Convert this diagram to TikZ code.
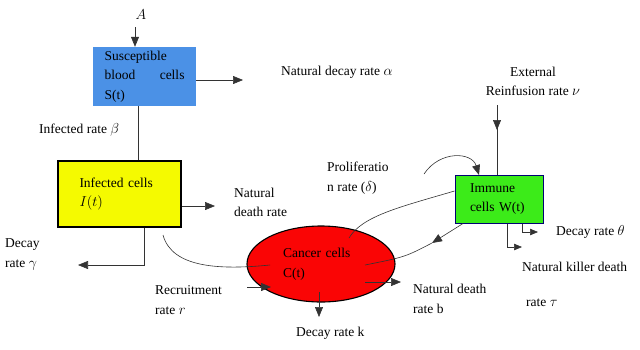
\documentclass[tikz,border=0pt]{standalone}
\usepackage{fontspec}
\setmainfont{Liberation Serif}
\usepackage{xcolor}
\usetikzlibrary{arrows.meta, shapes.geometric}

\definecolor{susceptible_blue}{RGB}{75,145,230}
\definecolor{infected_yellow}{RGB}{245,250,0}
\definecolor{immune_green}{RGB}{60,235,25}
\definecolor{cancer_red}{RGB}{250,5,5}

\begin{document}
\begin{tikzpicture}[
    x=1pt, y=-1pt,
    font=\fontsize{13.5}{19.5}\selectfont,
    cell/.style={rectangle, align=left, inner sep=0pt},
    cell_round/.style={ellipse, align=left, inner sep=0pt, draw=black, line width=1.1pt},
    label_text/.style={align=left, anchor=west, inner sep=0pt},
    link/.style={draw=black!80, line width=0.6pt},
    flow/.style={link, -{Triangle[length=10pt, width=8pt]}},
    flow_small/.style={link, -{Triangle[length=8pt, width=6.5pt]}},
]
    \useasboundingbox (0, 0) rectangle (640, 349);

    \node(susceptible)[cell, fill=susceptible_blue, minimum width=103, minimum height=59, text width=80] at (144.5, 76.5) {Susceptible\\ blood\hfill cells\\ S(t)};
    \node(infected)[cell, fill=infected_yellow, draw=black, line width=1.2pt, minimum width=123, minimum height=66, text width=80] at (119.5, 194) {Infected cells\\ $I(t)$};
    \node(cancer)[cell_round, fill=cancer_red, minimum width=148, minimum height=76, text width=76] at (321, 264) {Cancer cells\\ C(t)};
    \node(immune)[cell, fill=immune_green, draw=blue!45!black, line width=1pt, minimum width=88, minimum height=48, text width=58] at (499, 199) {Immune\\ cells W(t)};

    \node(a_text)[inner sep=0pt] at (141, 15) {$A$};
    \node(alpha_text)[label_text] at (281, 72) {Natural decay rate $\alpha$};
    \node(beta_text)[label_text] at (39, 130) {Infected rate $\beta$};
    \node(death_text)[label_text] at (234, 202.5) {Natural\\ death rate};
    \node(gamma_text)[label_text] at (5, 254.5) {Decay\\ rate $\gamma$};
    \node(recruit_text)[label_text] at (155, 300) {Recruitment\\ rate $r$};
    \node(k_text)[label_text] at (296, 333) {Decay rate k};
    \node(b_text)[label_text] at (413, 299) {Natural death\\ rate b};
    \node(delta_text)[label_text] at (327, 178) {Proliferatio\\ n rate ($\delta$)};
    \node(nu_text)[align=center, inner sep=0pt] at (533, 81.5) {External\\ Reinfusion rate $\nu$};
    \node(theta_text)[label_text] at (556, 232) {Decay rate $\theta$};
    \node(killer_text)[label_text] at (522, 267) {Natural killer death};
    \node(tau_text)[label_text] at (526, 303) {rate $\tau$};

    \coordinate(a_in) at (135, 27);
    \coordinate(alpha_end) at (243, 80);
    \coordinate(death_end) at (215, 206);
    \coordinate(gamma_end) at (78, 265);
    \coordinate(recruit_start) at (163, 235);
    \coordinate(recruit_end) at (270, 265);
    \coordinate(recruit_in) at (247, 287);
    \coordinate(recruit_tip) at (271, 287);
    \coordinate(k_start) at (319, 292);
    \coordinate(k_end) at (319, 317);
    \coordinate(b_start) at (365, 282);
    \coordinate(b_end) at (401, 282);
    \coordinate(nu_start) at (497, 105);
    \coordinate(delta_start) at (424, 174);
    \coordinate(delta_end) at (479, 175);
    \coordinate(kill_end) at (349, 238);
    \coordinate(attack_mid) at (432, 243);
    \coordinate(attack_end) at (365, 265);
    \coordinate(theta_end) at (538, 232);
    \coordinate(killer_end) at (522, 247);

    \draw[flow] (a_in) -- (a_in |- susceptible.north);
    \draw[flow] (alpha_end -| susceptible.east) -- (alpha_end);
    \draw[link] ([xshift=-6.5]susceptible.south) -- ([xshift=-6.5]susceptible.south |- infected.north);
    \draw[flow] (death_end -| infected.east) -- (death_end);
    \draw[flow] ([xshift=24.5]infected.south) |- (gamma_end);
    \draw[link] (recruit_start) .. controls (172, 268) and (220, 270) .. (recruit_end);
    \draw[flow] (recruit_in) -- (recruit_tip);
    \draw[flow] (k_start) -- (k_end);
    \draw[flow] (b_start) -- (b_end);

    \draw[link] (nu_start) -- (nu_start |- immune.north);
    \draw[flow] (nu_start) -- ++(0, 25);
    \draw[flow] (delta_start) .. controls (440, 150) and (472, 152) .. (delta_end);
    \draw[link] ([yshift=8]immune.west) .. controls (400, 207) and (362, 216) .. (kill_end);
    \draw[flow] ([xshift=-36]immune.south) -- (attack_mid);
    \draw[link] (attack_mid) .. controls (405, 257) .. (attack_end);
    \draw[flow_small] ([xshift=23]immune.south) |- (theta_end);
    \draw[flow_small] ([xshift=8]immune.south) |- (killer_end);
\end{tikzpicture}
\end{document}
